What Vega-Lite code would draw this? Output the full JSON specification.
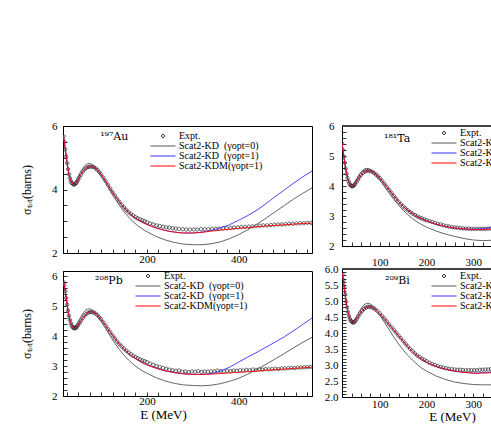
{
"$schema": "https://vega.github.io/schema/vega-lite/v6.json",
"padding": {"left": 20, "top": 119, "right": 0, "bottom": 0},
"config": {
 "font": "Liberation Serif",
 "view": {"stroke": "black", "strokeWidth": 1},
 "axis": {"grid": false, "domainColor": "black", "domainWidth": 1, "tickColor": "black", "tickWidth": 0.8, "labelColor": "black", "titleColor": "black", "labelFont": "Liberation Serif", "titleFont": "Liberation Serif", "labelFontSize": 11, "titleFontSize": 12, "titleFontWeight": "normal"},
 "legend": {"labelFont": "Liberation Serif", "labelFontSize": 10, "labelColor": "black", "rowPadding": 0, "symbolSize": 6.25, "symbolStrokeWidth": 1, "labelOffset": 11, "padding": 0}
},
"datasets": {
 "au": [
  {"s":"E","e":18,"v":5.68},{"s":"E","e":20,"v":5.5},{"s":"E","e":22,"v":5.26},{"s":"E","e":24,"v":5.04},{"s":"E","e":26,"v":4.83},{"s":"E","e":28,"v":4.64},{"s":"E","e":30,"v":4.48},{"s":"E","e":32,"v":4.36},{"s":"E","e":34,"v":4.27},{"s":"E","e":36,"v":4.21},{"s":"E","e":38,"v":4.18},{"s":"E","e":40,"v":4.16},{"s":"E","e":42,"v":4.16},{"s":"E","e":44,"v":4.18},{"s":"E","e":46,"v":4.21},{"s":"E","e":48,"v":4.26},{"s":"E","e":50,"v":4.31},{"s":"E","e":53,"v":4.39},{"s":"E","e":56,"v":4.47},{"s":"E","e":60,"v":4.56},{"s":"E","e":64,"v":4.63},{"s":"E","e":68,"v":4.68},{"s":"E","e":72,"v":4.71},{"s":"E","e":76,"v":4.72},{"s":"E","e":80,"v":4.72},{"s":"E","e":84,"v":4.71},{"s":"E","e":88,"v":4.67},{"s":"E","e":92,"v":4.62},{"s":"E","e":96,"v":4.55},{"s":"E","e":100,"v":4.48},{"s":"E","e":105,"v":4.38},{"s":"E","e":110,"v":4.27},{"s":"E","e":115,"v":4.15},{"s":"E","e":120,"v":4.03},{"s":"E","e":125,"v":3.92},{"s":"E","e":130,"v":3.81},{"s":"E","e":135,"v":3.71},{"s":"E","e":140,"v":3.61},{"s":"E","e":145,"v":3.52},{"s":"E","e":150,"v":3.44},{"s":"E","e":155,"v":3.36},{"s":"E","e":160,"v":3.29},{"s":"E","e":165,"v":3.23},{"s":"E","e":170,"v":3.18},{"s":"E","e":175,"v":3.13},{"s":"E","e":180,"v":3.09},{"s":"E","e":185,"v":3.06},{"s":"E","e":190,"v":3.03},{"s":"E","e":195,"v":3.0},{"s":"E","e":200,"v":2.97},{"s":"E","e":207,"v":2.93},{"s":"E","e":214,"v":2.9},{"s":"E","e":221,"v":2.87},{"s":"E","e":228,"v":2.85},{"s":"E","e":235,"v":2.83},{"s":"E","e":242,"v":2.81},{"s":"E","e":249,"v":2.8},{"s":"E","e":256,"v":2.78},{"s":"E","e":263,"v":2.77},{"s":"E","e":270,"v":2.76},{"s":"E","e":278,"v":2.75},{"s":"E","e":286,"v":2.74},{"s":"E","e":294,"v":2.74},{"s":"E","e":302,"v":2.74},{"s":"E","e":310,"v":2.74},{"s":"E","e":318,"v":2.75},{"s":"E","e":326,"v":2.75},{"s":"E","e":334,"v":2.75},{"s":"E","e":342,"v":2.76},{"s":"E","e":350,"v":2.76},{"s":"E","e":358,"v":2.77},{"s":"E","e":366,"v":2.78},{"s":"E","e":374,"v":2.78},{"s":"E","e":382,"v":2.79},{"s":"E","e":390,"v":2.8},{"s":"E","e":398,"v":2.81},{"s":"E","e":406,"v":2.82},{"s":"E","e":414,"v":2.82},{"s":"E","e":422,"v":2.83},{"s":"E","e":430,"v":2.84},{"s":"E","e":438,"v":2.85},{"s":"E","e":446,"v":2.86},{"s":"E","e":454,"v":2.87},{"s":"E","e":462,"v":2.87},{"s":"E","e":470,"v":2.88},{"s":"E","e":478,"v":2.89},{"s":"E","e":486,"v":2.9},{"s":"E","e":494,"v":2.9},{"s":"E","e":502,"v":2.91},{"s":"E","e":510,"v":2.92},{"s":"E","e":518,"v":2.92},{"s":"E","e":526,"v":2.93},{"s":"E","e":534,"v":2.94},{"s":"E","e":542,"v":2.94},{"s":"E","e":550,"v":2.95},{"s":"E","e":558,"v":2.95},
  {"s":"K0","e":18,"v":5.72},{"s":"K0","e":22,"v":5.25},{"s":"K0","e":26,"v":4.78},{"s":"K0","e":30,"v":4.46},{"s":"K0","e":34,"v":4.3},{"s":"K0","e":38,"v":4.23},{"s":"K0","e":42,"v":4.22},{"s":"K0","e":46,"v":4.29},{"s":"K0","e":50,"v":4.4},{"s":"K0","e":55,"v":4.55},{"s":"K0","e":60,"v":4.67},{"s":"K0","e":65,"v":4.76},{"s":"K0","e":70,"v":4.81},{"s":"K0","e":75,"v":4.82},{"s":"K0","e":80,"v":4.79},{"s":"K0","e":85,"v":4.73},{"s":"K0","e":90,"v":4.64},{"s":"K0","e":100,"v":4.43},{"s":"K0","e":110,"v":4.19},{"s":"K0","e":120,"v":3.95},{"s":"K0","e":130,"v":3.72},{"s":"K0","e":140,"v":3.5},{"s":"K0","e":150,"v":3.3},{"s":"K0","e":160,"v":3.13},{"s":"K0","e":170,"v":2.98},{"s":"K0","e":180,"v":2.86},{"s":"K0","e":190,"v":2.76},{"s":"K0","e":200,"v":2.67},{"s":"K0","e":220,"v":2.52},{"s":"K0","e":240,"v":2.41},{"s":"K0","e":260,"v":2.33},{"s":"K0","e":280,"v":2.28},{"s":"K0","e":300,"v":2.26},{"s":"K0","e":320,"v":2.26},{"s":"K0","e":340,"v":2.29},{"s":"K0","e":360,"v":2.35},{"s":"K0","e":380,"v":2.45},{"s":"K0","e":400,"v":2.58},{"s":"K0","e":420,"v":2.73},{"s":"K0","e":440,"v":2.91},{"s":"K0","e":460,"v":3.1},{"s":"K0","e":480,"v":3.3},{"s":"K0","e":500,"v":3.5},{"s":"K0","e":520,"v":3.7},{"s":"K0","e":540,"v":3.88},{"s":"K0","e":560,"v":4.05},
  {"s":"K1","e":18,"v":5.7},{"s":"K1","e":22,"v":5.27},{"s":"K1","e":26,"v":4.84},{"s":"K1","e":30,"v":4.48},{"s":"K1","e":34,"v":4.27},{"s":"K1","e":38,"v":4.18},{"s":"K1","e":42,"v":4.16},{"s":"K1","e":46,"v":4.21},{"s":"K1","e":50,"v":4.31},{"s":"K1","e":56,"v":4.47},{"s":"K1","e":62,"v":4.6},{"s":"K1","e":68,"v":4.68},{"s":"K1","e":74,"v":4.72},{"s":"K1","e":80,"v":4.72},{"s":"K1","e":86,"v":4.69},{"s":"K1","e":92,"v":4.62},{"s":"K1","e":100,"v":4.48},{"s":"K1","e":110,"v":4.27},{"s":"K1","e":120,"v":4.03},{"s":"K1","e":130,"v":3.81},{"s":"K1","e":140,"v":3.61},{"s":"K1","e":150,"v":3.43},{"s":"K1","e":160,"v":3.28},{"s":"K1","e":170,"v":3.15},{"s":"K1","e":180,"v":3.05},{"s":"K1","e":190,"v":2.97},{"s":"K1","e":200,"v":2.9},{"s":"K1","e":210,"v":2.84},{"s":"K1","e":220,"v":2.79},{"s":"K1","e":230,"v":2.75},{"s":"K1","e":240,"v":2.71},{"s":"K1","e":250,"v":2.68},{"s":"K1","e":260,"v":2.66},{"s":"K1","e":270,"v":2.64},{"s":"K1","e":280,"v":2.63},{"s":"K1","e":290,"v":2.63},{"s":"K1","e":300,"v":2.63},{"s":"K1","e":310,"v":2.64},{"s":"K1","e":320,"v":2.66},{"s":"K1","e":330,"v":2.68},{"s":"K1","e":340,"v":2.71},{"s":"K1","e":350,"v":2.75},{"s":"K1","e":360,"v":2.79},{"s":"K1","e":380,"v":2.89},{"s":"K1","e":400,"v":3.03},{"s":"K1","e":420,"v":3.18},{"s":"K1","e":440,"v":3.35},{"s":"K1","e":460,"v":3.56},{"s":"K1","e":480,"v":3.78},{"s":"K1","e":500,"v":3.99},{"s":"K1","e":520,"v":4.2},{"s":"K1","e":540,"v":4.4},{"s":"K1","e":560,"v":4.58},
  {"s":"KM","e":18,"v":5.7},{"s":"KM","e":22,"v":5.27},{"s":"KM","e":26,"v":4.84},{"s":"KM","e":30,"v":4.48},{"s":"KM","e":34,"v":4.27},{"s":"KM","e":38,"v":4.18},{"s":"KM","e":42,"v":4.16},{"s":"KM","e":46,"v":4.21},{"s":"KM","e":50,"v":4.31},{"s":"KM","e":56,"v":4.47},{"s":"KM","e":62,"v":4.6},{"s":"KM","e":68,"v":4.68},{"s":"KM","e":74,"v":4.72},{"s":"KM","e":80,"v":4.72},{"s":"KM","e":86,"v":4.69},{"s":"KM","e":92,"v":4.62},{"s":"KM","e":100,"v":4.48},{"s":"KM","e":110,"v":4.27},{"s":"KM","e":120,"v":4.03},{"s":"KM","e":130,"v":3.81},{"s":"KM","e":140,"v":3.61},{"s":"KM","e":150,"v":3.43},{"s":"KM","e":160,"v":3.28},{"s":"KM","e":170,"v":3.15},{"s":"KM","e":180,"v":3.05},{"s":"KM","e":190,"v":2.97},{"s":"KM","e":200,"v":2.9},{"s":"KM","e":210,"v":2.84},{"s":"KM","e":220,"v":2.79},{"s":"KM","e":230,"v":2.75},{"s":"KM","e":240,"v":2.71},{"s":"KM","e":250,"v":2.68},{"s":"KM","e":260,"v":2.66},{"s":"KM","e":270,"v":2.64},{"s":"KM","e":280,"v":2.63},{"s":"KM","e":290,"v":2.63},{"s":"KM","e":300,"v":2.63},{"s":"KM","e":310,"v":2.64},{"s":"KM","e":320,"v":2.65},{"s":"KM","e":330,"v":2.67},{"s":"KM","e":340,"v":2.69},{"s":"KM","e":350,"v":2.7},{"s":"KM","e":360,"v":2.72},{"s":"KM","e":380,"v":2.75},{"s":"KM","e":400,"v":2.78},{"s":"KM","e":420,"v":2.8},{"s":"KM","e":440,"v":2.83},{"s":"KM","e":460,"v":2.85},{"s":"KM","e":480,"v":2.87},{"s":"KM","e":500,"v":2.89},{"s":"KM","e":520,"v":2.91},{"s":"KM","e":540,"v":2.93},{"s":"KM","e":560,"v":2.94}
 ],
 "pb": [
  {"s":"E","e":18,"v":5.8},{"s":"E","e":20,"v":5.7},{"s":"E","e":22,"v":5.5},{"s":"E","e":24,"v":5.27},{"s":"E","e":26,"v":5.05},{"s":"E","e":28,"v":4.85},{"s":"E","e":30,"v":4.68},{"s":"E","e":32,"v":4.54},{"s":"E","e":34,"v":4.43},{"s":"E","e":36,"v":4.35},{"s":"E","e":38,"v":4.3},{"s":"E","e":40,"v":4.27},{"s":"E","e":42,"v":4.26},{"s":"E","e":44,"v":4.26},{"s":"E","e":46,"v":4.29},{"s":"E","e":48,"v":4.33},{"s":"E","e":50,"v":4.37},{"s":"E","e":53,"v":4.44},{"s":"E","e":56,"v":4.51},{"s":"E","e":60,"v":4.6},{"s":"E","e":64,"v":4.68},{"s":"E","e":68,"v":4.74},{"s":"E","e":72,"v":4.78},{"s":"E","e":76,"v":4.8},{"s":"E","e":80,"v":4.8},{"s":"E","e":84,"v":4.79},{"s":"E","e":88,"v":4.75},{"s":"E","e":92,"v":4.7},{"s":"E","e":96,"v":4.63},{"s":"E","e":100,"v":4.56},{"s":"E","e":105,"v":4.46},{"s":"E","e":110,"v":4.35},{"s":"E","e":115,"v":4.24},{"s":"E","e":120,"v":4.13},{"s":"E","e":125,"v":4.02},{"s":"E","e":130,"v":3.92},{"s":"E","e":135,"v":3.82},{"s":"E","e":140,"v":3.73},{"s":"E","e":145,"v":3.65},{"s":"E","e":150,"v":3.58},{"s":"E","e":155,"v":3.51},{"s":"E","e":160,"v":3.45},{"s":"E","e":165,"v":3.39},{"s":"E","e":170,"v":3.34},{"s":"E","e":175,"v":3.3},{"s":"E","e":180,"v":3.26},{"s":"E","e":185,"v":3.22},{"s":"E","e":190,"v":3.19},{"s":"E","e":195,"v":3.16},{"s":"E","e":200,"v":3.13},{"s":"E","e":207,"v":3.08},{"s":"E","e":214,"v":3.04},{"s":"E","e":221,"v":3.0},{"s":"E","e":228,"v":2.97},{"s":"E","e":235,"v":2.94},{"s":"E","e":242,"v":2.91},{"s":"E","e":249,"v":2.88},{"s":"E","e":256,"v":2.86},{"s":"E","e":263,"v":2.84},{"s":"E","e":270,"v":2.85},{"s":"E","e":277,"v":2.81},{"s":"E","e":284,"v":2.82},{"s":"E","e":291,"v":2.8},{"s":"E","e":298,"v":2.82},{"s":"E","e":305,"v":2.81},{"s":"E","e":312,"v":2.83},{"s":"E","e":319,"v":2.8},{"s":"E","e":326,"v":2.82},{"s":"E","e":333,"v":2.81},{"s":"E","e":340,"v":2.83},{"s":"E","e":347,"v":2.82},{"s":"E","e":354,"v":2.85},{"s":"E","e":361,"v":2.83},{"s":"E","e":368,"v":2.82},{"s":"E","e":375,"v":2.84},{"s":"E","e":382,"v":2.83},{"s":"E","e":389,"v":2.85},{"s":"E","e":396,"v":2.84},{"s":"E","e":403,"v":2.86},{"s":"E","e":410,"v":2.85},{"s":"E","e":417,"v":2.87},{"s":"E","e":424,"v":2.86},{"s":"E","e":431,"v":2.88},{"s":"E","e":438,"v":2.87},{"s":"E","e":445,"v":2.89},{"s":"E","e":452,"v":2.88},{"s":"E","e":459,"v":2.9},{"s":"E","e":466,"v":2.89},{"s":"E","e":473,"v":2.9},{"s":"E","e":480,"v":2.91},{"s":"E","e":487,"v":2.9},{"s":"E","e":494,"v":2.92},{"s":"E","e":501,"v":2.92},{"s":"E","e":508,"v":2.93},{"s":"E","e":515,"v":2.94},{"s":"E","e":522,"v":2.93},{"s":"E","e":529,"v":2.95},{"s":"E","e":536,"v":2.95},{"s":"E","e":543,"v":2.96},{"s":"E","e":550,"v":2.96},{"s":"E","e":557,"v":2.97},
  {"s":"K0","e":18,"v":5.82},{"s":"K0","e":22,"v":5.45},{"s":"K0","e":26,"v":5.0},{"s":"K0","e":30,"v":4.62},{"s":"K0","e":35,"v":4.4},{"s":"K0","e":40,"v":4.32},{"s":"K0","e":45,"v":4.36},{"s":"K0","e":50,"v":4.47},{"s":"K0","e":55,"v":4.62},{"s":"K0","e":60,"v":4.75},{"s":"K0","e":65,"v":4.85},{"s":"K0","e":70,"v":4.9},{"s":"K0","e":75,"v":4.91},{"s":"K0","e":80,"v":4.88},{"s":"K0","e":85,"v":4.82},{"s":"K0","e":90,"v":4.73},{"s":"K0","e":100,"v":4.5},{"s":"K0","e":110,"v":4.25},{"s":"K0","e":120,"v":4.0},{"s":"K0","e":130,"v":3.76},{"s":"K0","e":140,"v":3.55},{"s":"K0","e":150,"v":3.36},{"s":"K0","e":160,"v":3.2},{"s":"K0","e":170,"v":3.06},{"s":"K0","e":180,"v":2.94},{"s":"K0","e":190,"v":2.84},{"s":"K0","e":200,"v":2.76},{"s":"K0","e":220,"v":2.61},{"s":"K0","e":240,"v":2.5},{"s":"K0","e":260,"v":2.42},{"s":"K0","e":280,"v":2.37},{"s":"K0","e":300,"v":2.35},{"s":"K0","e":320,"v":2.34},{"s":"K0","e":340,"v":2.36},{"s":"K0","e":360,"v":2.41},{"s":"K0","e":380,"v":2.49},{"s":"K0","e":400,"v":2.59},{"s":"K0","e":420,"v":2.73},{"s":"K0","e":440,"v":2.89},{"s":"K0","e":460,"v":3.06},{"s":"K0","e":480,"v":3.24},{"s":"K0","e":500,"v":3.42},{"s":"K0","e":520,"v":3.61},{"s":"K0","e":540,"v":3.79},{"s":"K0","e":560,"v":3.96},
  {"s":"K1","e":18,"v":5.82},{"s":"K1","e":22,"v":5.5},{"s":"K1","e":26,"v":5.05},{"s":"K1","e":30,"v":4.68},{"s":"K1","e":34,"v":4.43},{"s":"K1","e":38,"v":4.3},{"s":"K1","e":42,"v":4.26},{"s":"K1","e":46,"v":4.29},{"s":"K1","e":50,"v":4.37},{"s":"K1","e":56,"v":4.51},{"s":"K1","e":62,"v":4.64},{"s":"K1","e":68,"v":4.74},{"s":"K1","e":74,"v":4.8},{"s":"K1","e":80,"v":4.81},{"s":"K1","e":86,"v":4.78},{"s":"K1","e":92,"v":4.7},{"s":"K1","e":100,"v":4.56},{"s":"K1","e":110,"v":4.35},{"s":"K1","e":120,"v":4.13},{"s":"K1","e":130,"v":3.92},{"s":"K1","e":140,"v":3.73},{"s":"K1","e":150,"v":3.56},{"s":"K1","e":160,"v":3.42},{"s":"K1","e":170,"v":3.3},{"s":"K1","e":180,"v":3.2},{"s":"K1","e":190,"v":3.11},{"s":"K1","e":200,"v":3.04},{"s":"K1","e":210,"v":2.98},{"s":"K1","e":220,"v":2.93},{"s":"K1","e":230,"v":2.88},{"s":"K1","e":240,"v":2.84},{"s":"K1","e":250,"v":2.81},{"s":"K1","e":260,"v":2.78},{"s":"K1","e":270,"v":2.76},{"s":"K1","e":280,"v":2.74},{"s":"K1","e":290,"v":2.73},{"s":"K1","e":300,"v":2.72},{"s":"K1","e":310,"v":2.72},{"s":"K1","e":320,"v":2.72},{"s":"K1","e":330,"v":2.73},{"s":"K1","e":340,"v":2.75},{"s":"K1","e":350,"v":2.78},{"s":"K1","e":360,"v":2.83},{"s":"K1","e":380,"v":2.96},{"s":"K1","e":400,"v":3.13},{"s":"K1","e":420,"v":3.3},{"s":"K1","e":440,"v":3.46},{"s":"K1","e":460,"v":3.63},{"s":"K1","e":480,"v":3.8},{"s":"K1","e":500,"v":3.98},{"s":"K1","e":520,"v":4.18},{"s":"K1","e":540,"v":4.39},{"s":"K1","e":560,"v":4.6},
  {"s":"KM","e":18,"v":5.82},{"s":"KM","e":22,"v":5.5},{"s":"KM","e":26,"v":5.05},{"s":"KM","e":30,"v":4.68},{"s":"KM","e":34,"v":4.43},{"s":"KM","e":38,"v":4.3},{"s":"KM","e":42,"v":4.26},{"s":"KM","e":46,"v":4.29},{"s":"KM","e":50,"v":4.37},{"s":"KM","e":56,"v":4.51},{"s":"KM","e":62,"v":4.64},{"s":"KM","e":68,"v":4.74},{"s":"KM","e":74,"v":4.8},{"s":"KM","e":80,"v":4.81},{"s":"KM","e":86,"v":4.78},{"s":"KM","e":92,"v":4.7},{"s":"KM","e":100,"v":4.56},{"s":"KM","e":110,"v":4.35},{"s":"KM","e":120,"v":4.13},{"s":"KM","e":130,"v":3.92},{"s":"KM","e":140,"v":3.73},{"s":"KM","e":150,"v":3.56},{"s":"KM","e":160,"v":3.42},{"s":"KM","e":170,"v":3.3},{"s":"KM","e":180,"v":3.2},{"s":"KM","e":190,"v":3.11},{"s":"KM","e":200,"v":3.04},{"s":"KM","e":210,"v":2.98},{"s":"KM","e":220,"v":2.93},{"s":"KM","e":230,"v":2.88},{"s":"KM","e":240,"v":2.84},{"s":"KM","e":250,"v":2.81},{"s":"KM","e":260,"v":2.78},{"s":"KM","e":270,"v":2.76},{"s":"KM","e":280,"v":2.74},{"s":"KM","e":290,"v":2.73},{"s":"KM","e":300,"v":2.72},{"s":"KM","e":310,"v":2.72},{"s":"KM","e":320,"v":2.72},{"s":"KM","e":330,"v":2.72},{"s":"KM","e":340,"v":2.73},{"s":"KM","e":350,"v":2.74},{"s":"KM","e":360,"v":2.75},{"s":"KM","e":380,"v":2.77},{"s":"KM","e":400,"v":2.79},{"s":"KM","e":420,"v":2.81},{"s":"KM","e":440,"v":2.83},{"s":"KM","e":460,"v":2.86},{"s":"KM","e":480,"v":2.88},{"s":"KM","e":500,"v":2.9},{"s":"KM","e":520,"v":2.92},{"s":"KM","e":540,"v":2.94},{"s":"KM","e":560,"v":2.96}
 ],
 "ta": [
  {"s":"E","e":19,"v":5.42},{"s":"E","e":21,"v":5.2},{"s":"E","e":23,"v":4.98},{"s":"E","e":25,"v":4.77},{"s":"E","e":27,"v":4.58},{"s":"E","e":29,"v":4.41},{"s":"E","e":31,"v":4.27},{"s":"E","e":33,"v":4.16},{"s":"E","e":35,"v":4.08},{"s":"E","e":37,"v":4.03},{"s":"E","e":39,"v":4.0},{"s":"E","e":41,"v":3.99},{"s":"E","e":43,"v":4.0},{"s":"E","e":45,"v":4.03},{"s":"E","e":47,"v":4.07},{"s":"E","e":50,"v":4.14},{"s":"E","e":53,"v":4.21},{"s":"E","e":56,"v":4.29},{"s":"E","e":60,"v":4.37},{"s":"E","e":64,"v":4.44},{"s":"E","e":68,"v":4.48},{"s":"E","e":72,"v":4.51},{"s":"E","e":76,"v":4.51},{"s":"E","e":80,"v":4.5},{"s":"E","e":84,"v":4.47},{"s":"E","e":88,"v":4.43},{"s":"E","e":92,"v":4.38},{"s":"E","e":96,"v":4.32},{"s":"E","e":100,"v":4.26},{"s":"E","e":105,"v":4.17},{"s":"E","e":110,"v":4.07},{"s":"E","e":115,"v":3.97},{"s":"E","e":120,"v":3.87},{"s":"E","e":125,"v":3.77},{"s":"E","e":130,"v":3.67},{"s":"E","e":135,"v":3.57},{"s":"E","e":140,"v":3.48},{"s":"E","e":145,"v":3.4},{"s":"E","e":150,"v":3.32},{"s":"E","e":155,"v":3.25},{"s":"E","e":160,"v":3.19},{"s":"E","e":165,"v":3.13},{"s":"E","e":170,"v":3.08},{"s":"E","e":175,"v":3.03},{"s":"E","e":180,"v":2.99},{"s":"E","e":185,"v":2.95},{"s":"E","e":190,"v":2.92},{"s":"E","e":195,"v":2.89},{"s":"E","e":200,"v":2.86},{"s":"E","e":206,"v":2.83},{"s":"E","e":212,"v":2.8},{"s":"E","e":218,"v":2.77},{"s":"E","e":224,"v":2.74},{"s":"E","e":230,"v":2.72},{"s":"E","e":236,"v":2.69},{"s":"E","e":242,"v":2.67},{"s":"E","e":248,"v":2.65},{"s":"E","e":254,"v":2.63},{"s":"E","e":260,"v":2.62},{"s":"E","e":266,"v":2.61},{"s":"E","e":272,"v":2.6},{"s":"E","e":278,"v":2.59},{"s":"E","e":284,"v":2.58},{"s":"E","e":290,"v":2.58},{"s":"E","e":296,"v":2.57},{"s":"E","e":302,"v":2.57},{"s":"E","e":308,"v":2.57},{"s":"E","e":314,"v":2.57},{"s":"E","e":320,"v":2.57},{"s":"E","e":326,"v":2.57},{"s":"E","e":332,"v":2.58},{"s":"E","e":338,"v":2.58},
  {"s":"K0","e":19,"v":5.45},{"s":"K0","e":23,"v":4.96},{"s":"K0","e":27,"v":4.52},{"s":"K0","e":31,"v":4.22},{"s":"K0","e":35,"v":4.07},{"s":"K0","e":39,"v":4.02},{"s":"K0","e":43,"v":4.04},{"s":"K0","e":47,"v":4.12},{"s":"K0","e":52,"v":4.27},{"s":"K0","e":58,"v":4.43},{"s":"K0","e":64,"v":4.54},{"s":"K0","e":70,"v":4.59},{"s":"K0","e":76,"v":4.58},{"s":"K0","e":82,"v":4.52},{"s":"K0","e":90,"v":4.4},{"s":"K0","e":100,"v":4.2},{"s":"K0","e":110,"v":3.98},{"s":"K0","e":120,"v":3.76},{"s":"K0","e":130,"v":3.55},{"s":"K0","e":140,"v":3.36},{"s":"K0","e":150,"v":3.19},{"s":"K0","e":160,"v":3.04},{"s":"K0","e":170,"v":2.91},{"s":"K0","e":180,"v":2.8},{"s":"K0","e":190,"v":2.71},{"s":"K0","e":200,"v":2.63},{"s":"K0","e":220,"v":2.5},{"s":"K0","e":240,"v":2.4},{"s":"K0","e":260,"v":2.32},{"s":"K0","e":280,"v":2.25},{"s":"K0","e":300,"v":2.2},{"s":"K0","e":320,"v":2.18},{"s":"K0","e":338,"v":2.19},
  {"s":"K1","e":19,"v":5.45},{"s":"K1","e":23,"v":4.98},{"s":"K1","e":27,"v":4.57},{"s":"K1","e":31,"v":4.26},{"s":"K1","e":35,"v":4.08},{"s":"K1","e":39,"v":4.0},{"s":"K1","e":43,"v":4.0},{"s":"K1","e":47,"v":4.07},{"s":"K1","e":52,"v":4.19},{"s":"K1","e":58,"v":4.33},{"s":"K1","e":64,"v":4.44},{"s":"K1","e":70,"v":4.5},{"s":"K1","e":76,"v":4.52},{"s":"K1","e":82,"v":4.49},{"s":"K1","e":90,"v":4.41},{"s":"K1","e":100,"v":4.26},{"s":"K1","e":110,"v":4.07},{"s":"K1","e":120,"v":3.87},{"s":"K1","e":130,"v":3.67},{"s":"K1","e":140,"v":3.48},{"s":"K1","e":150,"v":3.32},{"s":"K1","e":160,"v":3.19},{"s":"K1","e":170,"v":3.08},{"s":"K1","e":180,"v":2.98},{"s":"K1","e":190,"v":2.9},{"s":"K1","e":200,"v":2.84},{"s":"K1","e":210,"v":2.78},{"s":"K1","e":220,"v":2.73},{"s":"K1","e":230,"v":2.69},{"s":"K1","e":240,"v":2.65},{"s":"K1","e":250,"v":2.62},{"s":"K1","e":260,"v":2.6},{"s":"K1","e":270,"v":2.58},{"s":"K1","e":280,"v":2.57},{"s":"K1","e":290,"v":2.56},{"s":"K1","e":300,"v":2.56},{"s":"K1","e":310,"v":2.57},{"s":"K1","e":320,"v":2.58},{"s":"K1","e":330,"v":2.6},{"s":"K1","e":338,"v":2.61},
  {"s":"KM","e":19,"v":5.45},{"s":"KM","e":23,"v":4.98},{"s":"KM","e":27,"v":4.57},{"s":"KM","e":31,"v":4.26},{"s":"KM","e":35,"v":4.08},{"s":"KM","e":39,"v":4.0},{"s":"KM","e":43,"v":4.0},{"s":"KM","e":47,"v":4.07},{"s":"KM","e":52,"v":4.19},{"s":"KM","e":58,"v":4.33},{"s":"KM","e":64,"v":4.44},{"s":"KM","e":70,"v":4.5},{"s":"KM","e":76,"v":4.52},{"s":"KM","e":82,"v":4.49},{"s":"KM","e":90,"v":4.41},{"s":"KM","e":100,"v":4.26},{"s":"KM","e":110,"v":4.07},{"s":"KM","e":120,"v":3.87},{"s":"KM","e":130,"v":3.67},{"s":"KM","e":140,"v":3.48},{"s":"KM","e":150,"v":3.32},{"s":"KM","e":160,"v":3.19},{"s":"KM","e":170,"v":3.08},{"s":"KM","e":180,"v":2.98},{"s":"KM","e":190,"v":2.9},{"s":"KM","e":200,"v":2.84},{"s":"KM","e":210,"v":2.78},{"s":"KM","e":220,"v":2.73},{"s":"KM","e":230,"v":2.69},{"s":"KM","e":240,"v":2.65},{"s":"KM","e":250,"v":2.62},{"s":"KM","e":260,"v":2.6},{"s":"KM","e":270,"v":2.58},{"s":"KM","e":280,"v":2.57},{"s":"KM","e":290,"v":2.56},{"s":"KM","e":300,"v":2.55},{"s":"KM","e":310,"v":2.55},{"s":"KM","e":320,"v":2.55},{"s":"KM","e":330,"v":2.56},{"s":"KM","e":338,"v":2.56}
 ],
 "bi": [
  {"s":"E","e":20,"v":5.84},{"s":"E","e":22,"v":5.65},{"s":"E","e":24,"v":5.42},{"s":"E","e":26,"v":5.2},{"s":"E","e":28,"v":4.98},{"s":"E","e":30,"v":4.8},{"s":"E","e":32,"v":4.65},{"s":"E","e":34,"v":4.53},{"s":"E","e":36,"v":4.44},{"s":"E","e":38,"v":4.38},{"s":"E","e":40,"v":4.35},{"s":"E","e":42,"v":4.33},{"s":"E","e":44,"v":4.33},{"s":"E","e":46,"v":4.35},{"s":"E","e":48,"v":4.39},{"s":"E","e":51,"v":4.45},{"s":"E","e":54,"v":4.52},{"s":"E","e":58,"v":4.61},{"s":"E","e":62,"v":4.69},{"s":"E","e":66,"v":4.75},{"s":"E","e":70,"v":4.79},{"s":"E","e":74,"v":4.82},{"s":"E","e":78,"v":4.82},{"s":"E","e":82,"v":4.81},{"s":"E","e":86,"v":4.78},{"s":"E","e":90,"v":4.74},{"s":"E","e":95,"v":4.68},{"s":"E","e":100,"v":4.61},{"s":"E","e":105,"v":4.53},{"s":"E","e":110,"v":4.45},{"s":"E","e":115,"v":4.36},{"s":"E","e":120,"v":4.27},{"s":"E","e":125,"v":4.18},{"s":"E","e":130,"v":4.1},{"s":"E","e":135,"v":4.01},{"s":"E","e":140,"v":3.92},{"s":"E","e":145,"v":3.84},{"s":"E","e":150,"v":3.75},{"s":"E","e":155,"v":3.66},{"s":"E","e":160,"v":3.58},{"s":"E","e":165,"v":3.5},{"s":"E","e":170,"v":3.43},{"s":"E","e":175,"v":3.36},{"s":"E","e":180,"v":3.3},{"s":"E","e":185,"v":3.25},{"s":"E","e":190,"v":3.2},{"s":"E","e":195,"v":3.16},{"s":"E","e":200,"v":3.12},{"s":"E","e":206,"v":3.07},{"s":"E","e":212,"v":3.03},{"s":"E","e":218,"v":3.0},{"s":"E","e":224,"v":2.97},{"s":"E","e":230,"v":2.94},{"s":"E","e":236,"v":2.92},{"s":"E","e":242,"v":2.9},{"s":"E","e":248,"v":2.88},{"s":"E","e":254,"v":2.87},{"s":"E","e":260,"v":2.86},{"s":"E","e":266,"v":2.85},{"s":"E","e":272,"v":2.85},{"s":"E","e":278,"v":2.84},{"s":"E","e":284,"v":2.84},{"s":"E","e":290,"v":2.84},{"s":"E","e":296,"v":2.84},{"s":"E","e":302,"v":2.84},{"s":"E","e":308,"v":2.84},{"s":"E","e":314,"v":2.85},{"s":"E","e":320,"v":2.85},{"s":"E","e":326,"v":2.86},{"s":"E","e":332,"v":2.86},{"s":"E","e":338,"v":2.87},
  {"s":"K0","e":20,"v":5.88},{"s":"K0","e":24,"v":5.4},{"s":"K0","e":28,"v":4.94},{"s":"K0","e":32,"v":4.62},{"s":"K0","e":36,"v":4.45},{"s":"K0","e":40,"v":4.38},{"s":"K0","e":44,"v":4.39},{"s":"K0","e":48,"v":4.46},{"s":"K0","e":54,"v":4.62},{"s":"K0","e":60,"v":4.77},{"s":"K0","e":66,"v":4.88},{"s":"K0","e":72,"v":4.93},{"s":"K0","e":78,"v":4.92},{"s":"K0","e":84,"v":4.86},{"s":"K0","e":90,"v":4.77},{"s":"K0","e":100,"v":4.56},{"s":"K0","e":110,"v":4.33},{"s":"K0","e":120,"v":4.1},{"s":"K0","e":130,"v":3.87},{"s":"K0","e":140,"v":3.66},{"s":"K0","e":150,"v":3.47},{"s":"K0","e":160,"v":3.3},{"s":"K0","e":170,"v":3.15},{"s":"K0","e":180,"v":3.02},{"s":"K0","e":190,"v":2.9},{"s":"K0","e":200,"v":2.81},{"s":"K0","e":220,"v":2.66},{"s":"K0","e":240,"v":2.55},{"s":"K0","e":260,"v":2.47},{"s":"K0","e":280,"v":2.42},{"s":"K0","e":300,"v":2.39},{"s":"K0","e":320,"v":2.38},{"s":"K0","e":338,"v":2.38},
  {"s":"K1","e":20,"v":5.86},{"s":"K1","e":24,"v":5.42},{"s":"K1","e":28,"v":4.97},{"s":"K1","e":32,"v":4.64},{"s":"K1","e":36,"v":4.43},{"s":"K1","e":40,"v":4.34},{"s":"K1","e":44,"v":4.33},{"s":"K1","e":48,"v":4.39},{"s":"K1","e":54,"v":4.52},{"s":"K1","e":60,"v":4.65},{"s":"K1","e":66,"v":4.75},{"s":"K1","e":72,"v":4.81},{"s":"K1","e":78,"v":4.83},{"s":"K1","e":84,"v":4.8},{"s":"K1","e":90,"v":4.74},{"s":"K1","e":100,"v":4.6},{"s":"K1","e":110,"v":4.44},{"s":"K1","e":120,"v":4.26},{"s":"K1","e":130,"v":4.09},{"s":"K1","e":140,"v":3.91},{"s":"K1","e":150,"v":3.74},{"s":"K1","e":160,"v":3.57},{"s":"K1","e":170,"v":3.42},{"s":"K1","e":180,"v":3.29},{"s":"K1","e":190,"v":3.18},{"s":"K1","e":200,"v":3.09},{"s":"K1","e":210,"v":3.02},{"s":"K1","e":220,"v":2.96},{"s":"K1","e":230,"v":2.91},{"s":"K1","e":240,"v":2.87},{"s":"K1","e":250,"v":2.84},{"s":"K1","e":260,"v":2.81},{"s":"K1","e":270,"v":2.79},{"s":"K1","e":280,"v":2.77},{"s":"K1","e":290,"v":2.76},{"s":"K1","e":300,"v":2.75},{"s":"K1","e":310,"v":2.75},{"s":"K1","e":320,"v":2.76},{"s":"K1","e":330,"v":2.77},{"s":"K1","e":338,"v":2.78},
  {"s":"KM","e":20,"v":5.86},{"s":"KM","e":24,"v":5.42},{"s":"KM","e":28,"v":4.97},{"s":"KM","e":32,"v":4.64},{"s":"KM","e":36,"v":4.43},{"s":"KM","e":40,"v":4.34},{"s":"KM","e":44,"v":4.33},{"s":"KM","e":48,"v":4.39},{"s":"KM","e":54,"v":4.52},{"s":"KM","e":60,"v":4.65},{"s":"KM","e":66,"v":4.75},{"s":"KM","e":72,"v":4.81},{"s":"KM","e":78,"v":4.83},{"s":"KM","e":84,"v":4.8},{"s":"KM","e":90,"v":4.74},{"s":"KM","e":100,"v":4.6},{"s":"KM","e":110,"v":4.44},{"s":"KM","e":120,"v":4.26},{"s":"KM","e":130,"v":4.09},{"s":"KM","e":140,"v":3.91},{"s":"KM","e":150,"v":3.74},{"s":"KM","e":160,"v":3.57},{"s":"KM","e":170,"v":3.42},{"s":"KM","e":180,"v":3.29},{"s":"KM","e":190,"v":3.18},{"s":"KM","e":200,"v":3.09},{"s":"KM","e":210,"v":3.02},{"s":"KM","e":220,"v":2.96},{"s":"KM","e":230,"v":2.91},{"s":"KM","e":240,"v":2.87},{"s":"KM","e":250,"v":2.84},{"s":"KM","e":260,"v":2.81},{"s":"KM","e":270,"v":2.79},{"s":"KM","e":280,"v":2.77},{"s":"KM","e":290,"v":2.76},{"s":"KM","e":300,"v":2.74},{"s":"KM","e":310,"v":2.74},{"s":"KM","e":320,"v":2.75},{"s":"KM","e":330,"v":2.75},{"s":"KM","e":338,"v":2.76}
 ]
},
"hconcat": [
 {
  "vconcat": [
   {
    "width": 249, "height": 127,
    "data": {"name": "au"},
    "layer": [
     {"transform": [{"filter": "datum.s === 'E'"}],
      "mark": {"type": "point", "filled": false, "size": 8, "strokeWidth": 0.6, "opacity": 1, "clip": true},
      "encoding": {
       "x": {"field": "e", "type": "quantitative", "scale": {"domain": [17, 560], "nice": false, "zero": false},
             "axis": {"values": [25,50,75,100,125,150,175,200,225,250,275,300,325,350,375,400,425,450,475,500,525,550], "labelExpr": "datum.value % 200 === 0 ? format(datum.value, 'd') : ''", "labelOverlap": false, "tickSize": -4, "labelPadding": 4, "title": null}},
       "y": {"field": "v", "type": "quantitative", "scale": {"domain": [2, 6], "nice": false, "zero": false},
             "axis": {"values": [2,2.5,3,3.5,4,4.5,5,5.5,6], "labelExpr": "datum.value % 2 === 0 ? format(datum.value, 'd') : ''", "labelOverlap": false, "tickSize": -4, "labelPadding": 10, "title": "σₜₒₜ(barns)", "titlePadding": 18}},
       "color": {"field": "s", "type": "nominal", "scale": {"domain": ["E","K0","K1","KM"], "range": ["black","#555555","#3333ff","#ff0000"]},
                 "legend": {"orient": "none", "legendX": 95, "legendY": 5, "title": null, "labelExpr": "datum.label == 'E' ? 'Expt.' : datum.label == 'K0' ? 'Scat2-KD\u00a0\u00a0(γopt=0)' : datum.label == 'K1' ? 'Scat2-KD\u00a0\u00a0(γopt=1)' : 'Scat2-KDM(γopt=1)'"}},
       "shape": {"field": "s", "type": "nominal", "scale": {"domain": ["E","K0","K1","KM"], "range": ["M1.2,0A1.2,1.2,0,1,1,-1.2,0A1.2,1.2,0,1,1,1.2,0Z","M-10,0L10,0","M-10,0L10,0","M-10,0L10,0"]},
                 "legend": {"orient": "none", "legendX": 95, "legendY": 5, "title": null, "labelExpr": "datum.label == 'E' ? 'Expt.' : datum.label == 'K0' ? 'Scat2-KD\u00a0\u00a0(γopt=0)' : datum.label == 'K1' ? 'Scat2-KD\u00a0\u00a0(γopt=1)' : 'Scat2-KDM(γopt=1)'"}}
      }},
     {"transform": [{"filter": "datum.s !== 'E'"}],
      "mark": {"type": "line", "strokeWidth": 0.9, "clip": true},
      "encoding": {
       "x": {"field": "e", "type": "quantitative", "axis": {"values": [25,50,75,100,125,150,175,200,225,250,275,300,325,350,375,400,425,450,475,500,525,550], "labelExpr": "datum.value % 200 === 0 ? format(datum.value, 'd') : ''", "labelOverlap": false, "tickSize": -4, "labelPadding": 4, "title": null}},
       "y": {"field": "v", "type": "quantitative", "axis": {"values": [2,2.5,3,3.5,4,4.5,5,5.5,6], "labelExpr": "datum.value % 2 === 0 ? format(datum.value, 'd') : ''", "labelOverlap": false, "tickSize": -4, "labelPadding": 10, "title": "σₜₒₜ(barns)", "titlePadding": 18}},
       "color": {"field": "s", "type": "nominal"}}},
     {"data": {"values": [{"lab": "¹⁹⁷Au"}]},
      "mark": {"type": "text", "align": "left", "baseline": "alphabetic", "fontSize": 11, "font": "DejaVu Serif"},
      "encoding": {
       "x": {"datum": 98, "axis": {"values": [25,50,75,100,125,150,175,200,225,250,275,300,325,350,375,400,425,450,475,500,525,550], "labelExpr": "datum.value % 200 === 0 ? format(datum.value, 'd') : ''", "labelOverlap": false, "tickSize": -4, "labelPadding": 4, "title": null}},
       "y": {"datum": 5.56, "axis": {"values": [2,2.5,3,3.5,4,4.5,5,5.5,6], "labelExpr": "datum.value % 2 === 0 ? format(datum.value, 'd') : ''", "labelOverlap": false, "tickSize": -4, "labelPadding": 10, "title": "σₜₒₜ(barns)", "titlePadding": 18}},
       "text": {"field": "lab"}}}
    ]
   },
   {
    "width": 249, "height": 125,
    "data": {"name": "pb"},
    "layer": [
     {"transform": [{"filter": "datum.s === 'E'"}],
      "mark": {"type": "point", "filled": false, "size": 8, "strokeWidth": 0.6, "opacity": 1, "clip": true},
      "encoding": {
       "x": {"field": "e", "type": "quantitative", "scale": {"domain": [17, 560], "nice": false, "zero": false},
             "axis": {"values": [25,50,75,100,125,150,175,200,225,250,275,300,325,350,375,400,425,450,475,500,525,550], "labelExpr": "datum.value % 200 === 0 ? format(datum.value, 'd') : ''", "labelOverlap": false, "tickSize": -4, "labelPadding": 3, "title": "E (MeV)", "titleFontSize": 13, "titleX": 100, "titlePadding": 2}},
       "y": {"field": "v", "type": "quantitative", "scale": {"domain": [2, 6.17], "nice": false, "zero": false},
             "axis": {"values": [2,2.2,2.4,2.6,2.8,3,3.2,3.4,3.6,3.8,4,4.2,4.4,4.6,4.8,5,5.2,5.4,5.6,5.8,6], "labelExpr": "abs(datum.value - round(datum.value)) < 0.001 ? format(datum.value, 'd') : ''", "labelOverlap": false, "tickSize": -4, "labelPadding": 10, "title": "σₜₒₜ(barns)", "titlePadding": 18}},
       "color": {"field": "s", "type": "nominal", "scale": {"domain": ["E","K0","K1","KM"], "range": ["black","#555555","#3333ff","#ff0000"]},
                 "legend": {"orient": "none", "legendX": 80, "legendY": 0, "title": null, "labelExpr": "datum.label == 'E' ? 'Expt.' : datum.label == 'K0' ? 'Scat2-KD\u00a0\u00a0(γopt=0)' : datum.label == 'K1' ? 'Scat2-KD\u00a0\u00a0(γopt=1)' : 'Scat2-KDM(γopt=1)'"}},
       "shape": {"field": "s", "type": "nominal", "scale": {"domain": ["E","K0","K1","KM"], "range": ["M1.2,0A1.2,1.2,0,1,1,-1.2,0A1.2,1.2,0,1,1,1.2,0Z","M-10,0L10,0","M-10,0L10,0","M-10,0L10,0"]},
                 "legend": {"orient": "none", "legendX": 80, "legendY": 0, "title": null, "labelExpr": "datum.label == 'E' ? 'Expt.' : datum.label == 'K0' ? 'Scat2-KD\u00a0\u00a0(γopt=0)' : datum.label == 'K1' ? 'Scat2-KD\u00a0\u00a0(γopt=1)' : 'Scat2-KDM(γopt=1)'"}}
      }},
     {"transform": [{"filter": "datum.s !== 'E'"}],
      "mark": {"type": "line", "strokeWidth": 0.9, "clip": true},
      "encoding": {
       "x": {"field": "e", "type": "quantitative", "axis": {"values": [25,50,75,100,125,150,175,200,225,250,275,300,325,350,375,400,425,450,475,500,525,550], "labelExpr": "datum.value % 200 === 0 ? format(datum.value, 'd') : ''", "labelOverlap": false, "tickSize": -4, "labelPadding": 3, "title": "E (MeV)", "titleFontSize": 13, "titleX": 100, "titlePadding": 2}},
       "y": {"field": "v", "type": "quantitative", "axis": {"values": [2,2.2,2.4,2.6,2.8,3,3.2,3.4,3.6,3.8,4,4.2,4.4,4.6,4.8,5,5.2,5.4,5.6,5.8,6], "labelExpr": "abs(datum.value - round(datum.value)) < 0.001 ? format(datum.value, 'd') : ''", "labelOverlap": false, "tickSize": -4, "labelPadding": 10, "title": "σₜₒₜ(barns)", "titlePadding": 18}},
       "color": {"field": "s", "type": "nominal"}}},
     {"data": {"values": [{"lab": "²⁰⁸Pb"}]},
      "mark": {"type": "text", "align": "left", "baseline": "alphabetic", "fontSize": 11, "font": "DejaVu Serif"},
      "encoding": {
       "x": {"datum": 87, "axis": {"values": [25,50,75,100,125,150,175,200,225,250,275,300,325,350,375,400,425,450,475,500,525,550], "labelExpr": "datum.value % 200 === 0 ? format(datum.value, 'd') : ''", "labelOverlap": false, "tickSize": -4, "labelPadding": 3, "title": "E (MeV)", "titleFontSize": 13, "titleX": 100, "titlePadding": 2}},
       "y": {"datum": 5.74, "axis": {"values": [2,2.2,2.4,2.6,2.8,3,3.2,3.4,3.6,3.8,4,4.2,4.4,4.6,4.8,5,5.2,5.4,5.6,5.8,6], "labelExpr": "abs(datum.value - round(datum.value)) < 0.001 ? format(datum.value, 'd') : ''", "labelOverlap": false, "tickSize": -4, "labelPadding": 10, "title": "σₜₒₜ(barns)", "titlePadding": 18}},
       "text": {"field": "lab"}}}
    ]
   }
  ],
  "spacing": 18,
  "bounds": "flush",
  "resolve": {"scale": {"x": "independent", "y": "independent", "color": "independent", "shape": "independent"}, "legend": {"color": "independent", "shape": "independent"}}
 },
 {
  "vconcat": [
   {
    "width": 149, "height": 120,
    "view": {"stroke": null},
    "data": {"name": "ta"},
    "layer": [
     {"transform": [{"filter": "datum.s === 'E'"}],
      "mark": {"type": "point", "filled": false, "size": 8, "strokeWidth": 0.6, "opacity": 1, "clip": true},
      "encoding": {
       "x": {"field": "e", "type": "quantitative", "scale": {"domain": [19, 338], "nice": false, "zero": false},
             "axis": {"values": [20,40,60,80,100,120,140,160,180,200,220,240,260,280,300,320], "labelExpr": "datum.value % 100 === 0 ? format(datum.value, 'd') : ''", "labelOverlap": false, "tickSize": -4, "labelPadding": 14, "title": null}},
       "y": {"field": "v", "type": "quantitative", "scale": {"domain": [2, 6], "nice": false, "zero": false},
             "axis": {"values": [2,2.2,2.4,2.6,2.8,3,3.2,3.4,3.6,3.8,4,4.2,4.4,4.6,4.8,5,5.2,5.4,5.6,5.8,6], "labelExpr": "abs(datum.value - round(datum.value)) < 0.001 ? format(datum.value, 'd') : ''", "labelOverlap": false, "tickSize": -4, "labelPadding": 12, "title": null}},
       "color": {"field": "s", "type": "nominal", "scale": {"domain": ["E","K0","K1","KM"], "range": ["black","#555555","#3333ff","#ff0000"]},
                 "legend": {"orient": "none", "legendX": 97, "legendY": 2, "title": null, "labelExpr": "datum.label == 'E' ? 'Expt.' : 'Scat2-K'"}},
       "shape": {"field": "s", "type": "nominal", "scale": {"domain": ["E","K0","K1","KM"], "range": ["M1.2,0A1.2,1.2,0,1,1,-1.2,0A1.2,1.2,0,1,1,1.2,0Z","M-10,0L10,0","M-10,0L10,0","M-10,0L10,0"]},
                 "legend": {"orient": "none", "legendX": 97, "legendY": 2, "title": null, "labelExpr": "datum.label == 'E' ? 'Expt.' : 'Scat2-K'"}}
      }},
     {"transform": [{"filter": "datum.s !== 'E'"}],
      "mark": {"type": "line", "strokeWidth": 0.9, "clip": true},
      "encoding": {
       "x": {"field": "e", "type": "quantitative", "axis": {"values": [20,40,60,80,100,120,140,160,180,200,220,240,260,280,300,320], "labelExpr": "datum.value % 100 === 0 ? format(datum.value, 'd') : ''", "labelOverlap": false, "tickSize": -4, "labelPadding": 14, "title": null}},
       "y": {"field": "v", "type": "quantitative", "axis": {"values": [2,2.2,2.4,2.6,2.8,3,3.2,3.4,3.6,3.8,4,4.2,4.4,4.6,4.8,5,5.2,5.4,5.6,5.8,6], "labelExpr": "abs(datum.value - round(datum.value)) < 0.001 ? format(datum.value, 'd') : ''", "labelOverlap": false, "tickSize": -4, "labelPadding": 12, "title": null}},
       "color": {"field": "s", "type": "nominal"}}},
     {"mark": {"type": "rule", "color": "#444444", "strokeWidth": 1},
      "encoding": {"y": {"datum": 6, "axis": {"values": [2,2.2,2.4,2.6,2.8,3,3.2,3.4,3.6,3.8,4,4.2,4.4,4.6,4.8,5,5.2,5.4,5.6,5.8,6], "labelExpr": "abs(datum.value - round(datum.value)) < 0.001 ? format(datum.value, 'd') : ''", "labelOverlap": false, "tickSize": -4, "labelPadding": 12, "title": null}}}},
     {"data": {"values": [{"lab": "¹⁸¹Ta"}]},
      "mark": {"type": "text", "align": "left", "baseline": "alphabetic", "fontSize": 11, "font": "DejaVu Serif"},
      "encoding": {
       "x": {"datum": 109, "axis": {"values": [20,40,60,80,100,120,140,160,180,200,220,240,260,280,300,320], "labelExpr": "datum.value % 100 === 0 ? format(datum.value, 'd') : ''", "labelOverlap": false, "tickSize": -4, "labelPadding": 14, "title": null}},
       "y": {"datum": 5.47, "axis": {"values": [2,2.2,2.4,2.6,2.8,3,3.2,3.4,3.6,3.8,4,4.2,4.4,4.6,4.8,5,5.2,5.4,5.6,5.8,6], "labelExpr": "abs(datum.value - round(datum.value)) < 0.001 ? format(datum.value, 'd') : ''", "labelOverlap": false, "tickSize": -4, "labelPadding": 12, "title": null}},
       "text": {"field": "lab"}}}
    ]
   },
   {
    "width": 149, "height": 128,
    "view": {"stroke": null},
    "data": {"name": "bi"},
    "layer": [
     {"transform": [{"filter": "datum.s === 'E'"}],
      "mark": {"type": "point", "filled": false, "size": 8, "strokeWidth": 0.6, "opacity": 1, "clip": true},
      "encoding": {
       "x": {"field": "e", "type": "quantitative", "scale": {"domain": [19, 338], "nice": false, "zero": false},
             "axis": {"values": [20,40,60,80,100,120,140,160,180,200,220,240,260,280,300,320], "labelExpr": "datum.value % 100 === 0 ? format(datum.value, 'd') : ''", "labelOverlap": false, "tickSize": -4, "labelPadding": 5, "title": "E (MeV)", "titleFontSize": 13, "titleX": 110, "titlePadding": 1}},
       "y": {"field": "v", "type": "quantitative", "scale": {"domain": [2, 6], "nice": false, "zero": false},
             "axis": {"values": [2,2.1,2.2,2.3,2.4,2.5,2.6,2.7,2.8,2.9,3,3.1,3.2,3.3,3.4,3.5,3.6,3.7,3.8,3.9,4,4.1,4.2,4.3,4.4,4.5,4.6,4.7,4.8,4.9,5,5.1,5.2,5.3,5.4,5.5,5.6,5.7,5.8,5.9,6], "labelExpr": "abs(datum.value*2 - round(datum.value*2)) < 0.001 ? format(datum.value, '.1f') : ''", "labelOverlap": false, "tickSize": -4, "labelPadding": 8, "title": null}},
       "color": {"field": "s", "type": "nominal", "scale": {"domain": ["E","K0","K1","KM"], "range": ["black","#555555","#3333ff","#ff0000"]},
                 "legend": {"orient": "none", "legendX": 97, "legendY": 2, "title": null, "labelExpr": "datum.label == 'E' ? 'Expt.' : 'Scat2-K'"}},
       "shape": {"field": "s", "type": "nominal", "scale": {"domain": ["E","K0","K1","KM"], "range": ["M1.2,0A1.2,1.2,0,1,1,-1.2,0A1.2,1.2,0,1,1,1.2,0Z","M-10,0L10,0","M-10,0L10,0","M-10,0L10,0"]},
                 "legend": {"orient": "none", "legendX": 97, "legendY": 2, "title": null, "labelExpr": "datum.label == 'E' ? 'Expt.' : 'Scat2-K'"}}
      }},
     {"transform": [{"filter": "datum.s !== 'E'"}],
      "mark": {"type": "line", "strokeWidth": 0.9, "clip": true},
      "encoding": {
       "x": {"field": "e", "type": "quantitative", "axis": {"values": [20,40,60,80,100,120,140,160,180,200,220,240,260,280,300,320], "labelExpr": "datum.value % 100 === 0 ? format(datum.value, 'd') : ''", "labelOverlap": false, "tickSize": -4, "labelPadding": 5, "title": "E (MeV)", "titleFontSize": 13, "titleX": 110, "titlePadding": 1}},
       "y": {"field": "v", "type": "quantitative", "axis": {"values": [2,2.1,2.2,2.3,2.4,2.5,2.6,2.7,2.8,2.9,3,3.1,3.2,3.3,3.4,3.5,3.6,3.7,3.8,3.9,4,4.1,4.2,4.3,4.4,4.5,4.6,4.7,4.8,4.9,5,5.1,5.2,5.3,5.4,5.5,5.6,5.7,5.8,5.9,6], "labelExpr": "abs(datum.value*2 - round(datum.value*2)) < 0.001 ? format(datum.value, '.1f') : ''", "labelOverlap": false, "tickSize": -4, "labelPadding": 8, "title": null}},
       "color": {"field": "s", "type": "nominal"}}},
     {"mark": {"type": "rule", "color": "#444444", "strokeWidth": 1},
      "encoding": {"y": {"datum": 6, "axis": {"values": [2,2.1,2.2,2.3,2.4,2.5,2.6,2.7,2.8,2.9,3,3.1,3.2,3.3,3.4,3.5,3.6,3.7,3.8,3.9,4,4.1,4.2,4.3,4.4,4.5,4.6,4.7,4.8,4.9,5,5.1,5.2,5.3,5.4,5.5,5.6,5.7,5.8,5.9,6], "labelExpr": "abs(datum.value*2 - round(datum.value*2)) < 0.001 ? format(datum.value, '.1f') : ''", "labelOverlap": false, "tickSize": -4, "labelPadding": 8, "title": null}}}},
     {"data": {"values": [{"lab": "²⁰⁹Bi"}]},
      "mark": {"type": "text", "align": "left", "baseline": "alphabetic", "fontSize": 11, "font": "DejaVu Serif"},
      "encoding": {
       "x": {"datum": 111, "axis": {"values": [20,40,60,80,100,120,140,160,180,200,220,240,260,280,300,320], "labelExpr": "datum.value % 100 === 0 ? format(datum.value, 'd') : ''", "labelOverlap": false, "tickSize": -4, "labelPadding": 5, "title": "E (MeV)", "titleFontSize": 13, "titleX": 110, "titlePadding": 1}},
       "y": {"datum": 5.53, "axis": {"values": [2,2.1,2.2,2.3,2.4,2.5,2.6,2.7,2.8,2.9,3,3.1,3.2,3.3,3.4,3.5,3.6,3.7,3.8,3.9,4,4.1,4.2,4.3,4.4,4.5,4.6,4.7,4.8,4.9,5,5.1,5.2,5.3,5.4,5.5,5.6,5.7,5.8,5.9,6], "labelExpr": "abs(datum.value*2 - round(datum.value*2)) < 0.001 ? format(datum.value, '.1f') : ''", "labelOverlap": false, "tickSize": -4, "labelPadding": 8, "title": null}},
       "text": {"field": "lab"}}}
    ]
   }
  ],
  "spacing": 23,
  "bounds": "flush",
  "resolve": {"scale": {"x": "independent", "y": "independent", "color": "independent", "shape": "independent"}, "legend": {"color": "independent", "shape": "independent"}}
 }
],
"spacing": 11,
"resolve": {"scale": {"x": "independent", "y": "independent", "color": "independent", "shape": "independent"}, "legend": {"color": "independent", "shape": "independent"}}
}
